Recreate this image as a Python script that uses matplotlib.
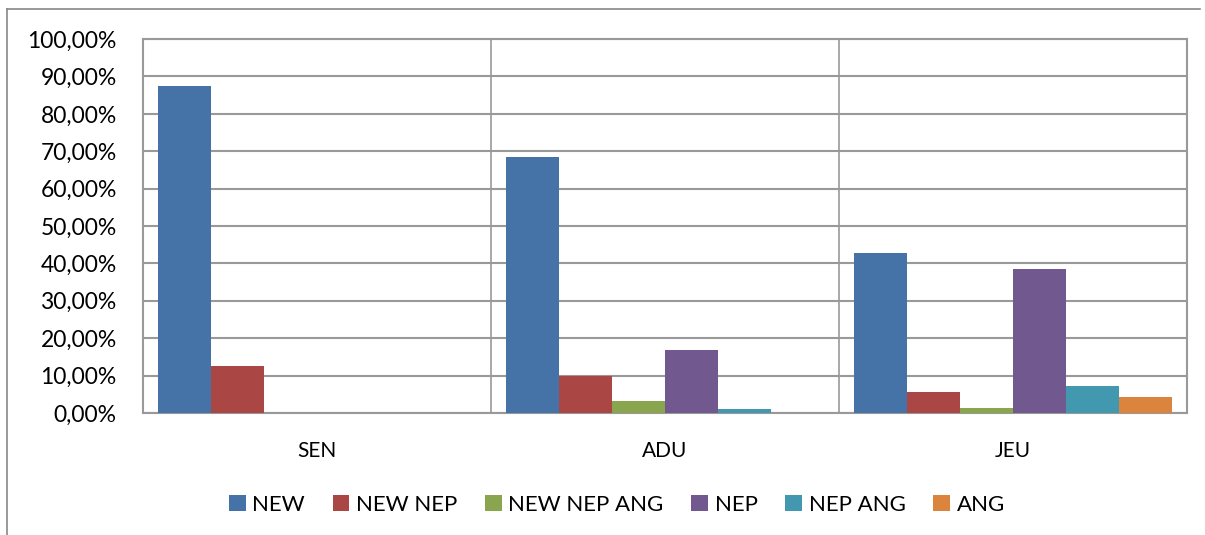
import numpy as np
import matplotlib.pyplot as plt
from matplotlib.lines import Line2D
from matplotlib.ticker import FuncFormatter

plt.rcParams['font.family'] = ['Lato', 'DejaVu Sans']

# data
groups = ['SEN', 'ADU', 'JEU']
series = ['NEW', 'NEW NEP', 'NEW NEP ANG', 'NEP', 'NEP ANG', 'ANG']
new = [87.5, 68.5, 42.9]
new_nep = [12.5, 10.0, 5.7]
new_nep_ang = [0.0, 3.3, 1.4]
nep = [0.0, 16.9, 38.6]
nep_ang = [0.0, 1.2, 7.1]
ang = [0.0, 0.0, 4.3]
values = [new, new_nep, new_nep_ang, nep, nep_ang, ang]
colors = ['#4572A7', '#AA4643', '#89A54E', '#71588F', '#4198AF', '#DB843D']

fig = plt.figure(figsize=(12.05, 5.35), dpi=100)
ax = fig.add_axes([0.1187, 0.228, 0.8663, 0.699])

x = np.arange(len(groups))
w = 318 / 348 / len(series)
for i, (name, vals, c) in enumerate(zip(series, values, colors)):
    offs = (i - (len(series) - 1) / 2) * w
    ax.bar(x + offs, vals, width=w, color=c, label=name, zorder=3)

ax.set_xlim(-0.5, len(groups) - 0.5)
ax.set_ylim(0, 100)
ax.set_yticks(np.arange(0, 101, 10))
ax.yaxis.set_major_formatter(FuncFormatter(lambda v, p: f"{v:.2f}%".replace('.', ',')))
ax.set_xticks(x)
ax.set_xticklabels(groups)
ax.tick_params(axis='y', length=0, pad=19, labelsize=16.5)
ax.tick_params(axis='x', length=0, pad=20, labelsize=15)

ax.grid(axis='y', color='#999999', linewidth=1.5, zorder=0)
for b in [0.5, 1.5]:
    ax.axvline(b, color='#999999', linewidth=1.2, zorder=0)
for s in ax.spines.values():
    s.set_color('#999999')
    s.set_linewidth(1.5)

ax.legend(loc='upper center', bbox_to_anchor=(0.454, -0.165), ncol=6, frameon=False,
          fontsize=16, handlelength=0.75, handleheight=0.75, handletextpad=0.3,
          columnspacing=1.25)

# outer chart frame
fig.add_artist(Line2D([0.0058, 0.996], [0.983, 0.983], color='#888888', linewidth=1.2))
fig.add_artist(Line2D([0.0058, 0.0058], [0.0, 0.983], color='#888888', linewidth=1.2))

plt.savefig('out.png', dpi=100)
